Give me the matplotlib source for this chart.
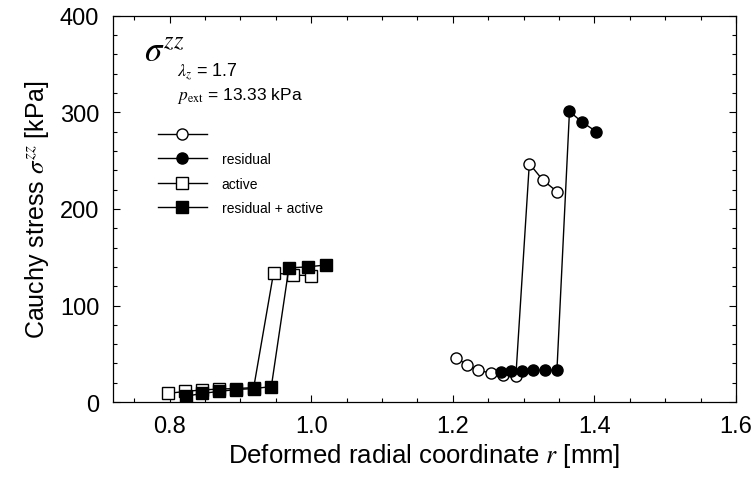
import matplotlib
matplotlib.use("Agg")
import matplotlib.pyplot as plt
from matplotlib.ticker import MultipleLocator, FormatStrFormatter
from matplotlib.lines import Line2D

plt.rcParams['font.family'] = ['Liberation Sans', 'DejaVu Sans']
plt.rcParams['mathtext.fontset'] = 'stix'

# open circles (no label)
oc_x = [1.205, 1.2205, 1.236, 1.2535, 1.271, 1.289, 1.308, 1.327, 1.347]
oc_y = [46, 38, 33, 30, 28, 27, 247, 230, 218]
# filled circles: residual
fc_x = [1.2675, 1.282, 1.297, 1.313, 1.3295, 1.347, 1.3647, 1.3825, 1.4027]
fc_y = [31, 32, 32, 33, 33, 33, 301, 290, 280]
# open squares: active
os_x = [0.798, 0.8215, 0.845, 0.8694, 0.894, 0.9187, 0.9468, 0.974, 1.000]
os_y = [9, 11, 12.5, 13.5, 14, 15, 134, 131.5, 131]
# filled squares: residual + active
fs_x = [0.823, 0.846, 0.8694, 0.894, 0.9187, 0.9436, 0.9684, 0.9947, 1.021]
fs_y = [6, 9, 11, 13, 14, 16, 139, 140, 142]

labels = ["", "residual", "active", "residual + active"]

fig = plt.figure(figsize=(7.52, 4.81), dpi=100)
ax = fig.add_axes([0.1503, 0.162, 0.8285, 0.803])

cms = 8
sms = 8.5
ax.plot(oc_x, oc_y, '-', color='black', lw=1, marker='o', ms=cms, mfc='white', mec='black', mew=1)
ax.plot(fc_x, fc_y, '-', color='black', lw=1, marker='o', ms=cms, mfc='black', mec='black')
ax.plot(os_x, os_y, '-', color='black', lw=1, marker='s', ms=sms, mfc='white', mec='black', mew=1)
ax.plot(fs_x, fs_y, '-', color='black', lw=1, marker='s', ms=sms, mfc='black', mec='black')

ax.set_xlim(0.72, 1.6)
ax.set_ylim(0, 400)
ax.xaxis.set_major_locator(MultipleLocator(0.2))
ax.xaxis.set_minor_locator(MultipleLocator(0.05))
ax.yaxis.set_major_locator(MultipleLocator(100))
ax.yaxis.set_minor_locator(MultipleLocator(20))
ax.xaxis.set_major_formatter(FormatStrFormatter('%.1f'))
ax.tick_params(which='both', direction='in', top=True, right=True, labelsize=17, width=0.8)
ax.tick_params(which='major', length=5)
ax.tick_params(which='minor', length=3)
ax.tick_params(axis='y', pad=10)
ax.tick_params(axis='x', pad=9)
for s in ax.spines.values():
    s.set_linewidth(0.9)

ax.set_xlabel(r'Deformed radial coordinate $r$ [mm]', fontsize=18.5, labelpad=3)
ax.set_ylabel(r'Cauchy stress $\sigma^{zz}$ [kPa]', fontsize=18, labelpad=6)

# annotations
ax.text(0.050, 0.91, r'$\sigma^{zz}$', transform=ax.transAxes, fontsize=25, va='center', ha='left')
ax.text(0.103, 0.855, r'$\lambda_z$ = 1.7', transform=ax.transAxes, fontsize=13, va='center', ha='left')
ax.text(0.103, 0.795, r'$p_{\rm ext}$ = 13.33 kPa', transform=ax.transAxes, fontsize=12.5, va='center', ha='left')

# custom legend
handles = [
    Line2D([], [], color='black', lw=1, marker='o', ms=cms, mfc='white', mec='black'),
    Line2D([], [], color='black', lw=1, marker='o', ms=cms, mfc='black', mec='black'),
    Line2D([], [], color='black', lw=1, marker='s', ms=sms, mfc='white', mec='black'),
    Line2D([], [], color='black', lw=1, marker='s', ms=sms, mfc='black', mec='black'),
]
ax.legend(handles, labels, loc='upper left', bbox_to_anchor=(0.061, 0.728), frameon=False,
          fontsize=10, handlelength=3.5, handletextpad=1.1, labelspacing=0.75, borderpad=0)

fig.savefig('out.png', dpi=100)
